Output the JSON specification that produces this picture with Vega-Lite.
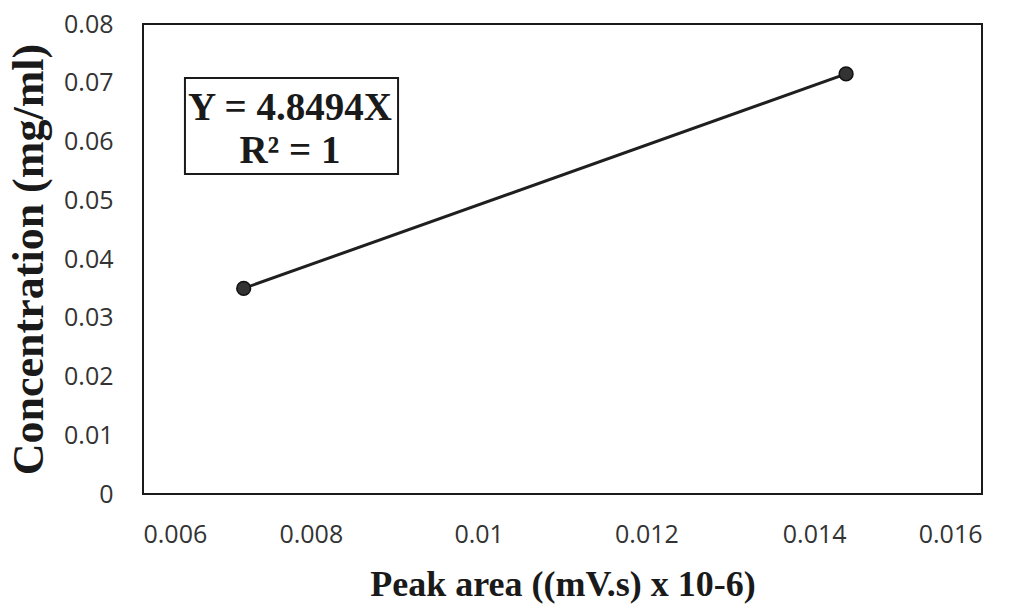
{
  "$schema": "https://vega.github.io/schema/vega-lite/v6.json",
  "width": 839,
  "height": 470,
  "autosize": {"type": "none"},
  "padding": {"left": 143, "top": 24, "right": 42, "bottom": 111},
  "background": "white",
  "config": {
    "view": {"stroke": "#1a1a1a", "strokeWidth": 2},
    "axis": {
      "grid": false,
      "ticks": false,
      "domain": false,
      "labelFont": "Open Sans",
      "labelFontSize": 25,
      "labelColor": "#333333",
      "titleFont": "Liberation Serif",
      "titleFontWeight": "bold",
      "titleColor": "#1a1a1a"
    }
  },
  "datasets": {
    "points": [
      {"peak_area": 0.0072, "concentration": 0.035},
      {"peak_area": 0.01438, "concentration": 0.0715}
    ],
    "box": [
      {"x1": 0.0065, "x2": 0.00904, "y1": 0.05447, "y2": 0.07081}
    ],
    "labels": [
      {"x": 0.007752, "y": 0.06366, "label": "Y = 4.8494X"},
      {"x": 0.007752, "y": 0.05634, "label": "R² = 1"}
    ]
  },
  "layer": [
    {
      "data": {"name": "box"},
      "mark": {"type": "rect", "fill": "white", "stroke": "#1a1a1a", "strokeWidth": 2},
      "encoding": {
        "x": {"field": "x1", "type": "quantitative", "scale": {"domain": [0.006, 0.016], "nice": false, "zero": false},
              "axis": {"values": [0.006, 0.008, 0.01, 0.012, 0.014, 0.016], "format": "~g", "labelPadding": 28, "title": "Peak area ((mV.s) x 10-6)", "titleFontSize": 36, "titlePadding": 20}},
        "x2": {"field": "x2"},
        "y": {"field": "y1", "type": "quantitative", "scale": {"domain": [0, 0.08], "nice": false},
              "axis": {"values": [0, 0.01, 0.02, 0.03, 0.04, 0.05, 0.06, 0.07, 0.08], "format": "~g", "labelPadding": 30, "title": "Concentration (mg/ml)", "titleFontSize": 44, "titlePadding": 12}},
        "y2": {"field": "y2"}
      }
    },
    {
      "data": {"name": "labels"},
      "mark": {"type": "text", "font": "Liberation Serif", "fontWeight": "bold", "fontSize": 39, "baseline": "alphabetic", "align": "center", "color": "#1a1a1a"},
      "encoding": {
        "x": {"field": "x", "type": "quantitative", "title": "Peak area ((mV.s) x 10-6)"},
        "y": {"field": "y", "type": "quantitative", "title": "Concentration (mg/ml)"},
        "text": {"field": "label"}
      }
    },
    {
      "data": {"name": "points"},
      "mark": {"type": "line", "color": "#1f1f1f", "strokeWidth": 3},
      "encoding": {
        "x": {"field": "peak_area", "type": "quantitative", "title": "Peak area ((mV.s) x 10-6)"},
        "y": {"field": "concentration", "type": "quantitative", "title": "Concentration (mg/ml)"}
      }
    },
    {
      "data": {"name": "points"},
      "mark": {"type": "point", "shape": "circle", "filled": true, "size": 190, "color": "#333333", "stroke": "#111111", "strokeWidth": 1.5, "opacity": 1},
      "encoding": {
        "x": {"field": "peak_area", "type": "quantitative", "title": "Peak area ((mV.s) x 10-6)"},
        "y": {"field": "concentration", "type": "quantitative", "title": "Concentration (mg/ml)"}
      }
    }
  ]
}
